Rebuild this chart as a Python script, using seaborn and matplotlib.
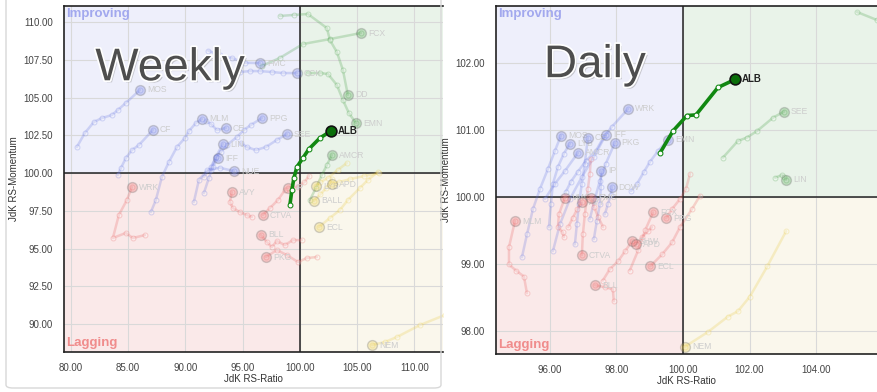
import seaborn as sns
import matplotlib.pyplot as plt
import matplotlib.patheffects as pe
from matplotlib.patches import Rectangle, FancyBboxPatch
from matplotlib.ticker import FormatStrFormatter

sns.set_style("white")
plt.rcParams['font.family'] = ['Liberation Sans', 'DejaVu Sans']

# ---- Weekly RRG: tails of (JdK RS-Ratio, JdK RS-Momentum), last point = head
wk_alb_x = [99.13, 99.30, 99.48, 99.74, 100.26, 100.79, 101.75, 102.71]
wk_alb_y = [97.88, 98.87, 99.67, 100.40, 100.99, 101.59, 102.32, 102.78]

wk_names = ["MOS", "CF", "MLM", "CE", "PPG", "SEE", "LIN", "IFF", "NUE", "FMC", "CCK",
            "FCX", "DD", "EMN", "AMCR", "LYB", "APD", "BALL", "ECL", "NEM",
            "WRK", "AVY", "CTVA", "IP", "BLL", "PKG"]
wk_x = [
    [80.52, 81.22, 82.01, 82.71, 83.58, 84.10, 84.80, 86.03],
    [84.10, 84.37, 84.80, 85.33, 85.94, 87.16],
    [86.99, 87.42, 87.95, 88.56, 89.26, 89.96, 90.31, 90.92, 91.44],
    [91.79, 92.23, 92.75, 93.54],
    [92.23, 92.66, 93.10, 93.62, 94.50, 95.11, 95.72, 96.68],
    [94.85, 95.37, 96.16, 97.03, 97.99, 98.86],
    [91.62, 92.23, 92.66, 93.27],
    [91.62, 92.05, 92.40, 92.84],
    [90.74, 91.18, 91.90, 93.00, 94.24],
    [92.00, 93.00, 94.10, 95.20, 96.51],
    [94.76, 95.63, 96.51, 97.55, 98.52, 99.74],
    [96.68, 98.25, 100.26, 102.62, 105.33],
    [98.25, 99.48, 100.70, 102.36, 102.62, 103.23, 103.76, 104.19],
    [100.70, 101.75, 102.45, 103.23, 103.76, 104.28, 104.89],
    [100.87, 101.40, 101.92, 102.36, 102.79],
    [104.10, 103.30, 102.50, 101.80, 101.40],
    [106.90, 105.60, 104.40, 103.40, 102.79],
    [102.80, 102.30, 101.80, 101.22],
    [106.81, 105.94, 105.24, 104.19, 103.49, 102.62, 101.66],
    [112.66, 110.48, 108.47, 107.42, 106.29],
    [86.46, 85.41, 84.80, 83.67, 84.19, 84.89, 85.33],
    [95.81, 95.37, 94.76, 94.15, 93.89, 94.06],
    [98.69, 98.08, 97.38, 96.77],
    [100.80, 100.40, 99.80, 98.95],
    [100.17, 99.39, 98.69, 97.99, 97.55, 97.12, 96.59],
    [101.48, 100.61, 99.83, 98.86, 97.99, 97.03],
]
wk_y = [
    [101.72, 102.65, 103.38, 103.64, 103.84, 104.17, 104.64, 105.50],
    [99.87, 100.33, 100.99, 101.52, 101.85, 102.85],
    [97.42, 98.21, 99.74, 100.73, 101.72, 102.32, 102.78, 103.31, 103.58],
    [103.44, 103.25, 102.85, 102.98],
    [100.20, 101.06, 101.39, 101.85, 102.38, 102.85, 103.18, 103.64],
    [101.99, 101.72, 101.52, 101.72, 102.19, 102.58],
    [99.74, 100.40, 101.06, 101.92],
    [98.68, 99.67, 100.40, 100.99],
    [98.08, 99.54, 100.20, 100.35, 100.13],
    [108.10, 107.80, 107.60, 107.30, 107.28],
    [106.69, 106.75, 106.75, 106.69, 106.62, 106.62],
    [107.09, 107.62, 108.54, 108.87, 109.27],
    [110.40, 110.47, 110.53, 109.60, 108.81, 108.01, 106.82, 105.17],
    [106.62, 106.62, 106.56, 105.83, 104.83, 103.97, 103.31],
    [98.21, 99.01, 99.87, 100.53, 101.19],
    [100.66, 100.20, 99.70, 99.40, 99.14],
    [100.00, 99.80, 99.60, 99.40, 99.27],
    [99.60, 99.00, 98.60, 98.15],
    [100.07, 99.54, 99.01, 98.21, 97.55, 97.02, 96.42],
    [90.60, 89.93, 89.14, 88.81, 88.61],
    [95.89, 95.70, 96.03, 95.70, 97.22, 98.21, 99.07],
    [97.09, 97.22, 97.42, 97.68, 98.08, 98.74],
    [98.87, 98.21, 97.68, 97.22],
    [99.80, 99.40, 99.10, 99.01],
    [95.56, 95.56, 95.23, 95.50, 95.10, 95.43, 95.90],
    [94.44, 94.37, 94.11, 94.57, 94.90, 94.44],
]

# ---- Daily RRG
dy_alb_x = [99.31, 99.70, 100.12, 100.39, 101.05, 101.56]
dy_alb_y = [100.66, 100.99, 101.22, 101.23, 101.64, 101.76]

dy_names = ["WRK", "EMN", "MOS", "LYB", "CE", "IFF", "PKG", "AMCR", "IP", "DOW",
            "SEE", "LIN", "DD", "NEM", "MLM", "VMC", "CTVA", "AVY", "FMC", "BLL",
            "SHW", "APD", "ECL", "PPG", "FCX"]
dy_x = [
    [96.48, 96.63, 96.84, 97.08, 97.38, 97.62, 97.86, 98.35],
    [98.44, 98.62, 98.83, 99.01, 99.25, 99.55],
    [95.16, 95.31, 95.49, 95.70, 95.94, 96.15, 96.33],
    [95.97, 96.03, 96.09, 96.24, 96.42, 96.60],
    [96.75, 96.81, 96.87, 96.96, 97.05, 97.14],
    [96.09, 96.30, 96.60, 96.96, 97.32, 97.68],
    [97.20, 97.35, 97.50, 97.68, 97.95],
    [95.85, 96.15, 96.45, 96.84],
    [97.32, 97.41, 97.50, 97.53, 97.53],
    [97.65, 97.74, 97.83, 97.86],
    [101.20, 101.65, 101.92, 102.23, 102.71, 103.04],
    [102.77, 102.98, 103.04, 103.10],
    [105.23, 105.83, 106.30],
    [103.10, 102.53, 102.01, 101.65, 101.35, 100.75, 100.06],
    [95.31, 95.22, 94.98, 94.77, 94.77, 94.95],
    [96.42, 96.39, 96.24, 96.27, 96.45],
    [97.23, 97.20, 97.14, 97.05, 96.99, 96.96],
    [96.55, 96.68, 96.82, 96.96],
    [97.60, 97.45, 97.33, 97.23],
    [97.92, 97.89, 97.65, 97.35],
    [97.59, 97.80, 98.05, 98.26, 98.47],
    [99.07, 98.95, 98.77, 98.59],
    [100.51, 100.27, 99.91, 99.67, 99.37, 99.01],
    [100.21, 100.09, 99.91, 99.67, 99.49],
    [98.40, 98.65, 98.86, 99.10],
]
dy_y = [
    [100.08, 100.23, 100.38, 100.54, 100.69, 100.90, 101.05, 101.32],
    [100.09, 100.20, 100.38, 100.53, 100.69, 100.86],
    [99.10, 99.44, 99.82, 100.12, 100.42, 100.69, 100.92],
    [99.55, 99.89, 100.20, 100.45, 100.65, 100.80],
    [99.29, 99.59, 99.89, 100.20, 100.50, 100.89],
    [99.19, 99.59, 99.97, 100.30, 100.60, 100.93],
    [99.67, 99.97, 100.24, 100.50, 100.81],
    [99.97, 100.20, 100.39, 100.66],
    [99.37, 99.64, 99.89, 100.15, 100.39],
    [99.74, 99.89, 100.03, 100.15],
    [100.59, 100.84, 100.89, 100.99, 101.19, 101.28],
    [100.29, 100.33, 100.30, 100.26],
    [102.77, 102.65, 102.55],
    [99.49, 98.96, 98.51, 98.29, 98.21, 97.98, 97.76],
    [98.56, 98.81, 98.90, 98.99, 99.25, 99.64],
    [99.40, 99.47, 99.55, 99.74, 99.99],
    [100.57, 100.35, 100.12, 99.74, 99.44, 99.13],
    [99.55, 99.68, 99.82, 99.92],
    [99.55, 99.70, 99.85, 99.99],
    [98.44, 98.62, 98.65, 98.68],
    [98.75, 98.92, 99.04, 99.19, 99.34],
    [99.55, 99.49, 99.40, 99.29],
    [100.02, 99.82, 99.55, 99.32, 99.14, 98.96],
    [100.35, 100.12, 99.97, 99.82, 99.68],
    [98.90, 99.20, 99.50, 99.77],
]

LINE = {"improving": "#5f6fe0", "leading": "#3c9a3c", "weakening": "#e8c83a", "lagging": "#e85858"}
BG = {"improving": "#eeeffb", "leading": "#e9f3e9", "weakening": "#faf7ec", "lagging": "#fae9e9"}


def quadrant(x, y):
    if x < 100:
        return "improving" if y >= 100 else "lagging"
    return "leading" if y >= 100 else "weakening"


def draw_panel(ax, names, xs, ys, alb_x, alb_y, xlim, ylim, xticks, yticks, title, title_pos):
    ax.set_xlim(xlim)
    ax.set_ylim(ylim)
    x0, x1 = xlim
    y0, y1 = ylim
    ax.add_patch(Rectangle((x0, 100), 100 - x0, y1 - 100, color=BG["improving"], zorder=0, lw=0))
    ax.add_patch(Rectangle((100, 100), x1 - 100, y1 - 100, color=BG["leading"], zorder=0, lw=0))
    ax.add_patch(Rectangle((x0, y0), 100 - x0, 100 - y0, color=BG["lagging"], zorder=0, lw=0))
    ax.add_patch(Rectangle((100, y0), x1 - 100, 100 - y0, color=BG["weakening"], zorder=0, lw=0))
    ax.set_axisbelow(True)
    ax.grid(True, color="#d9d9d9", lw=0.8)
    ax.axhline(100, color="#222222", lw=1.1, zorder=2)
    ax.axvline(100, color="#222222", lw=1.1, zorder=2)

    for n, tx, ty in zip(names, xs, ys):
        c = LINE[quadrant(tx[-1], ty[-1])]
        sns.lineplot(x=tx, y=ty, sort=False, estimator=None, color=c, linewidth=1.8,
                     alpha=0.24, marker="o", markersize=3.5, mec=c, mfc="white",
                     ax=ax, zorder=3)
        sns.scatterplot(x=[tx[-1]], y=[ty[-1]], color=c, s=50, edgecolor="#555555",
                        linewidth=1, alpha=0.25, ax=ax, zorder=4)
        ax.annotate(n, (tx[-1], ty[-1]), xytext=(5, 0), textcoords="offset points",
                    va="center", fontsize=6.2, color="#cdcdcd", zorder=4,
                    annotation_clip=True)

    sns.lineplot(x=alb_x, y=alb_y, sort=False, estimator=None, color="#118811",
                 linewidth=2.6, marker="o", markersize=3.5, mec="#118811", mfc="white",
                 ax=ax, zorder=6)
    sns.scatterplot(x=[alb_x[-1]], y=[alb_y[-1]], color="#0a6e0a", s=60,
                    edgecolor="#111111", linewidth=1.2, ax=ax, zorder=7)
    ax.annotate("ALB", (alb_x[-1], alb_y[-1]), xytext=(5, 0), textcoords="offset points",
                va="center", fontsize=7, fontweight="bold", color="#222222", zorder=7)

    ax.set_xticks(xticks)
    ax.set_yticks(yticks)
    ax.xaxis.set_major_formatter(FormatStrFormatter("%.2f"))
    ax.yaxis.set_major_formatter(FormatStrFormatter("%.2f"))
    ax.tick_params(length=0, labelsize=7, colors="#444444", pad=8)
    ax.set_xlabel("JdK RS-Ratio", fontsize=7, color="#333333", labelpad=1)
    ax.set_ylabel("JdK RS-Momentum", fontsize=7, color="#333333", labelpad=3)
    for s in ["left", "bottom", "top"]:
        ax.spines[s].set_color("#222222")
        ax.spines[s].set_linewidth(1.2)
    ax.spines["right"].set_visible(False)

    ax.text(0.005, 0.993, "Improving", transform=ax.transAxes, ha="left", va="top",
            fontsize=9.5, fontweight="bold", color="#a2a8ee", zorder=8)
    ax.text(0.005, 0.008, "Lagging", transform=ax.transAxes, ha="left", va="bottom",
            fontsize=9.5, fontweight="bold", color="#f08c8c", zorder=8)
    ax.text(title_pos[0], title_pos[1], title, transform=ax.transAxes, ha="center",
            va="center", fontsize=33, color="#4e4e4e", zorder=9,
            path_effects=[pe.SimplePatchShadow(offset=(1.5, -1.5), shadow_rgbFace="#888888", alpha=0.4),
                          pe.withStroke(linewidth=2.5, foreground="white")])


fig = plt.figure(figsize=(8.77, 3.92), dpi=100)
fig.patches.append(FancyBboxPatch((6 / 877, 4 / 392), 435 / 877, 1.1,
                                  boxstyle="round,pad=0,rounding_size=0.008",
                                  transform=fig.transFigure, fill=False,
                                  edgecolor="#d8d8d8", lw=1, zorder=0))

ax1 = fig.add_axes([64 / 877, 40 / 392, 379 / 877, 346 / 392])
ax2 = fig.add_axes([496 / 877, 38 / 392, 381 / 877, 348 / 392])

draw_panel(ax1, wk_names, wk_x, wk_y, wk_alb_x, wk_alb_y,
           (79.4, 112.5), (88.15, 111.06),
           [80, 85, 90, 95, 100, 105, 110], [90, 92.5, 95, 97.5, 100, 102.5, 105, 107.5, 110],
           "Weekly", (0.28, 0.82))
draw_panel(ax2, dy_names, dy_x, dy_y, dy_alb_x, dy_alb_y,
           (94.38, 105.83), (97.65, 102.86),
           [96, 98, 100, 102, 104], [98, 99, 100, 101, 102],
           "Daily", (0.26, 0.83))

fig.savefig("out.png", dpi=100)
